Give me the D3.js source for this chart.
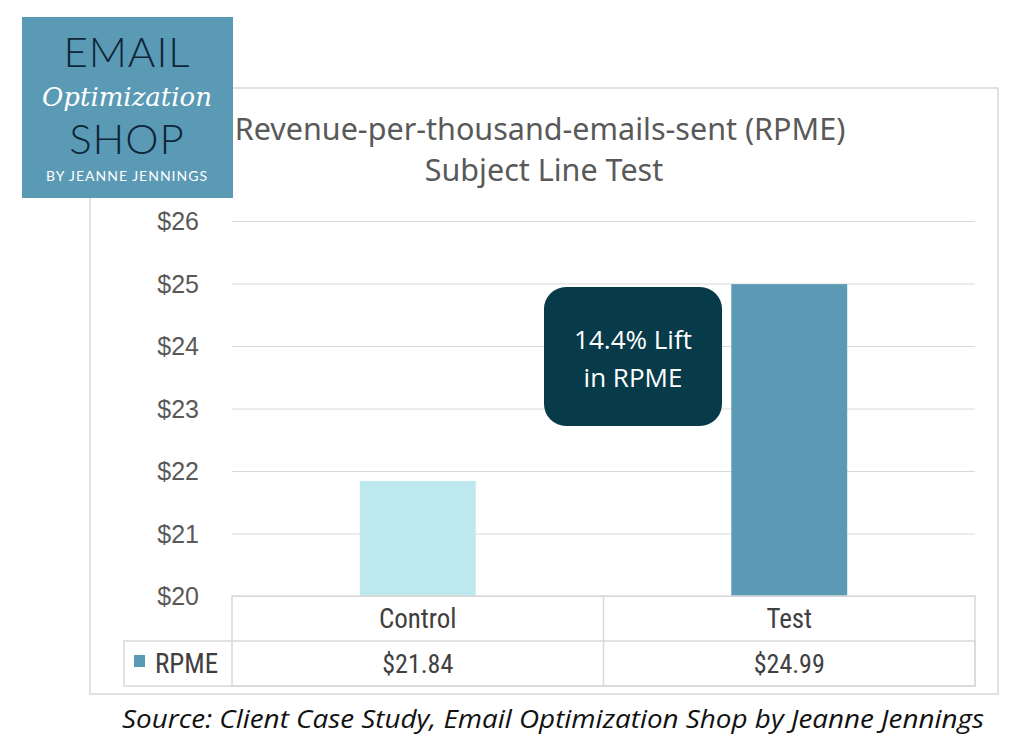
<!DOCTYPE html>
<html>
<head>
<meta charset="utf-8">
<script src="https://cdn.jsdelivr.net/npm/d3@7"></script>
<style>
  body { margin: 0; background: #fff; }
  svg { display: block; }
</style>
</head>
<body>
<div class="canvas"></div>
<script>
// chart values
const categories = ["Control", "Test"]
const rpmeValues = [21.84, 24.99]
const rpmeLabels = ["$21.84", "$24.99"]
const yTicks = [20, 21, 22, 23, 24, 25, 26]
const seriesName = "RPME"
const barColors = ["#bde8ee", "#5b9ab5"]

const svg = d3.select(".canvas").append("svg")
    .attr("width", 1024)
    .attr("height", 756)

// outer chart frame
svg.append("rect")
    .attr("x", 90).attr("y", 88)
    .attr("width", 908).attr("height", 606)
    .attr("fill", "#fff")
    .attr("stroke", "#d9d9d9")
    .attr("stroke-width", 1.5)

const plot = { left: 232, right: 975, top: 221, bottom: 596 }

const x = d3.scaleBand()
    .domain(categories)
    .range([plot.left, plot.right])
    .padding(0)

const y = d3.scaleLinear()
    .domain([20, 26])
    .range([plot.bottom, plot.top])

// title
const title = svg.append("g")
    .attr("fill", "#595959")
    .attr("font-family", "'Noto Sans', sans-serif")
    .attr("font-size", 30.5)
    .attr("text-anchor", "middle")
title.append("text").attr("x", 540).attr("y", 140).text("Revenue-per-thousand-emails-sent (RPME)")
title.append("text").attr("x", 544).attr("y", 181).text("Subject Line Test")

// y axis with gridlines
const yAxis = svg.append("g")
    .attr("transform", `translate(${plot.left},0)`)
    .call(d3.axisLeft(y)
        .tickValues(yTicks)
        .tickSize(-(plot.right - plot.left))
        .tickPadding(33)
        .tickFormat(d => "$" + d))
yAxis.select(".domain").remove()
yAxis.selectAll(".tick line")
    .attr("stroke", "#d9d9d9")
    .attr("stroke-width", 1.2)
yAxis.selectAll(".tick text")
    .attr("fill", "#595959")
    .attr("font-family", "'Liberation Sans', Arial, sans-serif")
    .attr("font-size", 25)
    .attr("dy", "0.35em")

// bars
const barW = x.bandwidth() * 0.312
svg.selectAll("rect.bar")
    .data(rpmeValues)
    .enter().append("rect")
    .attr("class", "bar")
    .attr("fill", (d, i) => barColors[i])
    .attr("x", (d, i) => x(categories[i]) + (x.bandwidth() - barW) / 2)
    .attr("width", barW)
    .attr("y", d => y(d))
    .attr("height", d => y(20) - y(d))

// data table under the plot
const rowH = 45
const legendLeft = 124
const table = svg.append("g")
    .attr("fill", "none")
    .attr("stroke", "#d9d9d9")
    .attr("stroke-width", 1.5)
table.append("rect")
    .attr("x", plot.left).attr("y", plot.bottom)
    .attr("width", plot.right - plot.left).attr("height", rowH * 2)
table.append("rect")
    .attr("x", legendLeft).attr("y", plot.bottom + rowH)
    .attr("width", plot.right - legendLeft).attr("height", rowH)
table.append("line")
    .attr("x1", x("Test")).attr("x2", x("Test"))
    .attr("y1", plot.bottom).attr("y2", plot.bottom + rowH * 2)

const tableFont = "'Liberation Sans Narrow', 'Roboto Condensed', Roboto, sans-serif"
svg.selectAll("text.cat")
    .data(categories)
    .enter().append("text")
    .attr("class", "cat")
    .attr("x", d => x(d) + x.bandwidth() / 2)
    .attr("y", plot.bottom + rowH / 2)
    .attr("dy", "0.35em")
    .attr("text-anchor", "middle")
    .attr("font-family", tableFont)
    .attr("font-size", 27)
    .attr("fill", "#404040")
    .text(d => d)

svg.selectAll("text.val")
    .data(rpmeLabels)
    .enter().append("text")
    .attr("class", "val")
    .attr("x", (d, i) => x(categories[i]) + x.bandwidth() / 2)
    .attr("y", plot.bottom + rowH * 1.5)
    .attr("dy", "0.35em")
    .attr("text-anchor", "middle")
    .attr("font-family", tableFont)
    .attr("font-size", 26)
    .attr("fill", "#404040")
    .text(d => d)

// legend key
svg.append("rect")
    .attr("x", 134).attr("y", 655)
    .attr("width", 11).attr("height", 12)
    .attr("fill", barColors[1])
svg.append("text")
    .attr("x", 155).attr("y", plot.bottom + rowH * 1.5)
    .attr("dy", "0.35em")
    .attr("font-family", tableFont)
    .attr("font-size", 27)
    .attr("fill", "#404040")
    .text(seriesName)

// callout box
const callout = svg.append("g")
callout.append("rect")
    .attr("x", 544).attr("y", 287)
    .attr("width", 178).attr("height", 139)
    .attr("rx", 22)
    .attr("fill", "#073b4a")
callout.selectAll("text")
    .data(["14.4% Lift", "in RPME"])
    .enter().append("text")
    .attr("x", 633)
    .attr("y", (d, i) => 349 + i * 38)
    .attr("text-anchor", "middle")
    .attr("font-family", "'Open Sans', sans-serif")
    .attr("font-size", 26)
    .attr("fill", "#fff")
    .text(d => d)

// logo
const logo = svg.append("g")
logo.append("rect")
    .attr("x", 22).attr("y", 17)
    .attr("width", 211).attr("height", 181)
    .attr("fill", "#5b9ab5")
logo.append("text")
    .attr("x", 127).attr("y", 67)
    .attr("text-anchor", "middle")
    .attr("font-family", "Lato, sans-serif")
    .attr("font-weight", 300)
    .attr("font-size", 42)
    .attr("letter-spacing", 1)
    .attr("fill", "#0e2638")
    .text("EMAIL")
logo.append("text")
    .attr("x", 127).attr("y", 106)
    .attr("text-anchor", "middle")
    .attr("font-family", "'DejaVu Serif', serif")
    .attr("font-style", "italic")
    .attr("font-size", 26)
    .attr("fill", "#fff")
    .text("Optimization")
logo.append("text")
    .attr("x", 127).attr("y", 154)
    .attr("text-anchor", "middle")
    .attr("font-family", "Lato, sans-serif")
    .attr("font-weight", 300)
    .attr("font-size", 42)
    .attr("letter-spacing", 1)
    .attr("fill", "#0e2638")
    .text("SHOP")
logo.append("text")
    .attr("x", 127).attr("y", 181)
    .attr("text-anchor", "middle")
    .attr("font-family", "Lato, sans-serif")
    .attr("font-size", 14)
    .attr("letter-spacing", 1)
    .attr("fill", "#fff")
    .text("BY JEANNE JENNINGS")

// source line
svg.append("text")
    .attr("x", 553).attr("y", 728)
    .attr("text-anchor", "middle")
    .attr("font-family", "'Open Sans', sans-serif")
    .attr("font-style", "italic")
    .attr("font-size", 26)
    .attr("textLength", 862)
    .attr("lengthAdjust", "spacingAndGlyphs")
    .attr("fill", "#111")
    .text("Source: Client Case Study, Email Optimization Shop by Jeanne Jennings")
</script>
</body>
</html>
